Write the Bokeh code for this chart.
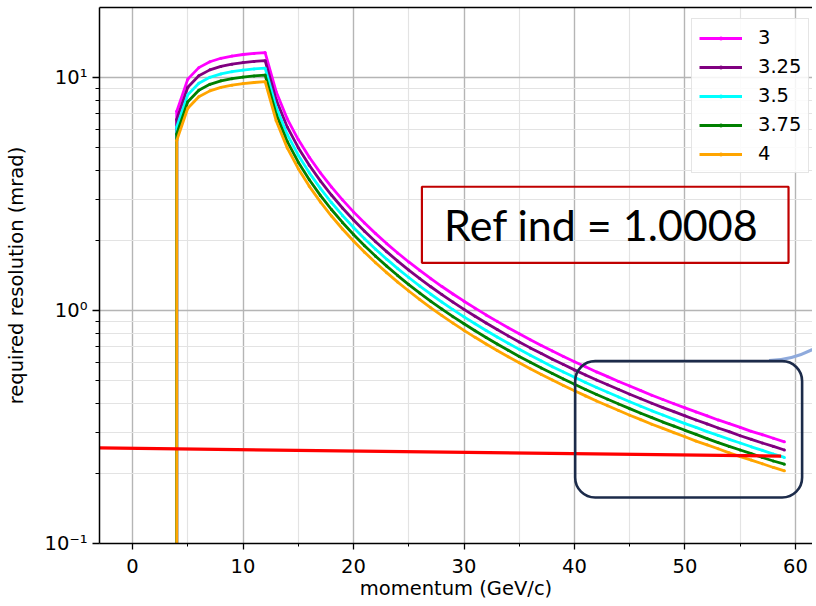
from bokeh.plotting import figure
from bokeh.models import (Range1d, FixedTicker, CustomJSTickFormatter, BoxAnnotation,
                          Label, LinearAxis)
from bokeh.embed import file_html
from bokeh.resources import INLINE

# ---------------- data ----------------
momentum = [4, 4, 5, 6, 7, 8, 9, 10, 11, 12, 13, 14, 15, 16, 17, 18, 19, 20, 21, 22,
            23, 24, 25, 26, 27, 28, 29, 30, 31, 32, 33, 34, 35, 36, 37, 38, 39, 40,
            41, 42, 43, 44, 45, 46, 47, 48, 49, 50, 51, 52, 53, 54, 55, 56, 57, 58, 59]

res_3 = [0.001, 7.153, 9.833, 11.019, 11.677, 12.084, 12.355, 12.546, 12.685, 12.790,
         8.684, 6.643, 5.411, 4.546, 3.897, 3.390, 2.983, 2.649, 2.371, 2.137, 1.937,
         1.765, 1.615, 1.485, 1.369, 1.267, 1.177, 1.096, 1.023, 0.957, 0.898, 0.843,
         0.794, 0.749, 0.708, 0.670, 0.635, 0.603, 0.573, 0.545, 0.520, 0.496, 0.474,
         0.453, 0.433, 0.415, 0.398, 0.382, 0.367, 0.353, 0.339, 0.327, 0.315, 0.303,
         0.293, 0.283, 0.273]
res_325 = [0.001, 6.603, 9.077, 10.172, 10.778, 11.155, 11.405, 11.581, 11.710, 11.806,
           8.016, 6.132, 4.995, 4.197, 3.597, 3.129, 2.753, 2.446, 2.189, 1.973, 1.788,
           1.629, 1.491, 1.370, 1.264, 1.170, 1.086, 1.011, 0.944, 0.883, 0.829, 0.778,
           0.733, 0.691, 0.654, 0.618, 0.586, 0.556, 0.529, 0.503, 0.480, 0.458, 0.437,
           0.418, 0.400, 0.383, 0.368, 0.353, 0.339, 0.326, 0.313, 0.302, 0.290, 0.280,
           0.270, 0.261, 0.252]
res_35 = [0.001, 6.131, 8.429, 9.445, 10.009, 10.358, 10.590, 10.754, 10.873, 10.963,
          7.444, 5.694, 4.638, 3.897, 3.340, 2.906, 2.557, 2.271, 2.033, 1.832, 1.660,
          1.513, 1.385, 1.273, 1.174, 1.086, 1.009, 0.939, 0.877, 0.820, 0.769, 0.723,
          0.681, 0.642, 0.607, 0.574, 0.544, 0.517, 0.491, 0.467, 0.446, 0.425, 0.406,
          0.388, 0.371, 0.356, 0.341, 0.327, 0.315, 0.302, 0.291, 0.280, 0.270, 0.260,
          0.251, 0.242, 0.234]
res_375 = [0.001, 5.723, 7.867, 8.815, 9.341, 9.667, 9.884, 10.037, 10.148, 10.232,
           6.948, 5.315, 4.329, 3.637, 3.118, 2.712, 2.386, 2.119, 1.897, 1.710, 1.550,
           1.412, 1.292, 1.188, 1.095, 1.014, 0.941, 0.877, 0.818, 0.766, 0.718, 0.675,
           0.635, 0.599, 0.566, 0.536, 0.508, 0.482, 0.458, 0.436, 0.416, 0.397, 0.379,
           0.362, 0.347, 0.332, 0.319, 0.306, 0.294, 0.282, 0.271, 0.261, 0.252, 0.243,
           0.234, 0.226, 0.219]
res_4 = [0.001, 5.365, 7.375, 8.265, 8.758, 9.063, 9.267, 9.410, 9.514, 9.593,
         6.513, 4.983, 4.059, 3.410, 2.923, 2.543, 2.237, 1.987, 1.779, 1.603, 1.453,
         1.324, 1.212, 1.114, 1.027, 0.951, 0.883, 0.822, 0.767, 0.718, 0.673, 0.633,
         0.596, 0.562, 0.531, 0.503, 0.476, 0.452, 0.430, 0.409, 0.390, 0.372, 0.355,
         0.340, 0.325, 0.312, 0.299, 0.287, 0.275, 0.265, 0.255, 0.245, 0.236, 0.228,
         0.220, 0.212, 0.205]

series_labels = ["3", "3.25", "3.5", "3.75", "4"]
series_values = [res_3, res_325, res_35, res_375, res_4]
series_colors = ["#ff00ff", "#800080", "#00ffff", "#008000", "#ffa500"]

limit_momentum = [-2.99, 58.7]
limit_resolution = [0.257, 0.237]

x_major_ticks = [0, 10, 20, 30, 40, 50, 60]
x_minor_ticks = [5, 15, 25, 35, 45, 55]
y_major_ticks = [0.1, 1, 10]
y_minor_ticks = [0.2, 0.3, 0.4, 0.5, 0.6, 0.7, 0.8, 0.9, 2, 3, 4, 5, 6, 7, 8, 9, 20]

FONT = "DejaVu Sans"
FS = "19.5px"

# ---------------- figure ----------------
p = figure(width=812, height=605, x_range=Range1d(-2.99, 61.54),
           y_range=Range1d(0.1, 19.96), y_axis_type="log",
           output_backend="svg", toolbar_location=None,
           min_border_left=99, min_border_right=0, min_border_top=7,
           min_border_bottom=62)
p.outline_line_color = None
p.background_fill_color = "white"
p.border_fill_color = "white"

# axes
p.xaxis.ticker = FixedTicker(ticks=x_major_ticks, minor_ticks=x_minor_ticks)
p.yaxis.ticker = FixedTicker(ticks=y_major_ticks, minor_ticks=y_minor_ticks)
p.yaxis.formatter = CustomJSTickFormatter(code="""
const e = Math.round(Math.log10(tick));
const sup = {'-': '\u207b', '0': '\u2070', '1': '\u00b9', '2': '\u00b2', '3': '\u00b3'};
return '10' + String(e).split('').map(c => sup[c]).join('');
""")
for ax in (p.xaxis[0], p.yaxis[0]):
    ax.axis_line_color = "black"
    ax.axis_line_width = 1.5
    ax.major_tick_line_color = "black"
    ax.minor_tick_line_color = "black"
    ax.major_tick_line_width = 1.3
    ax.minor_tick_line_width = 1.0
    ax.major_tick_in = 0
    ax.minor_tick_in = 0
    ax.major_label_text_font = FONT
    ax.major_label_text_font_size = FS
    ax.major_label_text_color = "black"
    ax.axis_label_text_font = FONT
    ax.axis_label_text_font_size = FS
    ax.axis_label_text_font_style = "normal"
    ax.axis_label_text_color = "black"
p.xaxis.major_tick_out = 6
p.xaxis.minor_tick_out = 3
p.yaxis.major_tick_out = 7
p.yaxis.minor_tick_out = 4
p.xaxis.major_label_standoff = 9
p.xaxis.axis_label_standoff = 1
p.yaxis.major_label_standoff = 5
p.yaxis.axis_label_standoff = 14
p.xaxis.axis_label = "momentum (GeV/c)"
p.yaxis.axis_label = "required resolution (mrad)"

top_axis = LinearAxis(ticker=FixedTicker(ticks=[]), axis_line_color="black",
                      axis_line_width=1.5, major_tick_out=0, minor_tick_out=0,
                      major_tick_in=0, minor_tick_in=0, major_label_standoff=0,
                      major_label_text_font_size="0px")
p.add_layout(top_axis, "above")

# grids
p.xgrid.grid_line_color = "#b5b5b5"
p.xgrid.grid_line_width = 1.4
p.xgrid.minor_grid_line_color = "#e3e3e3"
p.xgrid.minor_grid_line_width = 1.2
p.ygrid.grid_line_color = "#b5b5b5"
p.ygrid.grid_line_width = 1.4
p.ygrid.minor_grid_line_color = "#e3e3e3"
p.ygrid.minor_grid_line_width = 1.2

# series
for lab, vals, col in zip(series_labels, series_values, series_colors):
    p.line(momentum, vals, line_color=col, line_width=2.8, legend_label=lab)
    p.scatter(momentum, vals, marker="circle", size=3, fill_color=col,
              line_color=None, legend_label=lab)

p.line(limit_momentum, limit_resolution, line_color="#ff0000", line_width=3.2)

# legend
lg = p.legend[0]
lg.location = (592, 370)
lg.padding = 7
lg.margin = 0
lg.spacing = 6
lg.glyph_width = 43
lg.glyph_height = 10
lg.label_height = 20
lg.label_standoff = 16
lg.label_text_font = FONT
lg.label_text_font_size = FS
lg.label_text_color = "black"
lg.border_line_color = "#cccccc"
lg.border_line_width = 1.3
lg.background_fill_color = "white"
lg.background_fill_alpha = 0.85

# slide annotations
p.add_layout(BoxAnnotation(left=26.19, right=59.37, bottom=1.602, top=3.396,
                           fill_alpha=0, line_color="#c00000", line_alpha=1.0,
                           line_width=2.2))
p.add_layout(Label(x=28.2, y=2.33, text="Ref ind = 1.0008", text_font="Lato",
                   text_font_size="43px", text_color="black",
                   text_baseline="middle", text_align="left"))
p.add_layout(BoxAnnotation(left=40.06, right=60.6, bottom=0.1575, top=0.606,
                           fill_alpha=0, line_color="#1c2b4a", line_alpha=1.0,
                           line_width=2.6, border_radius=20))
p.quadratic(x0=[57.6], y0=[0.610], x1=[63.05], y1=[0.751], cx=[60.33], cy=[0.610],
            line_color="#8faadc", line_width=3)

open("out.html", "w").write(file_html(p, INLINE))
